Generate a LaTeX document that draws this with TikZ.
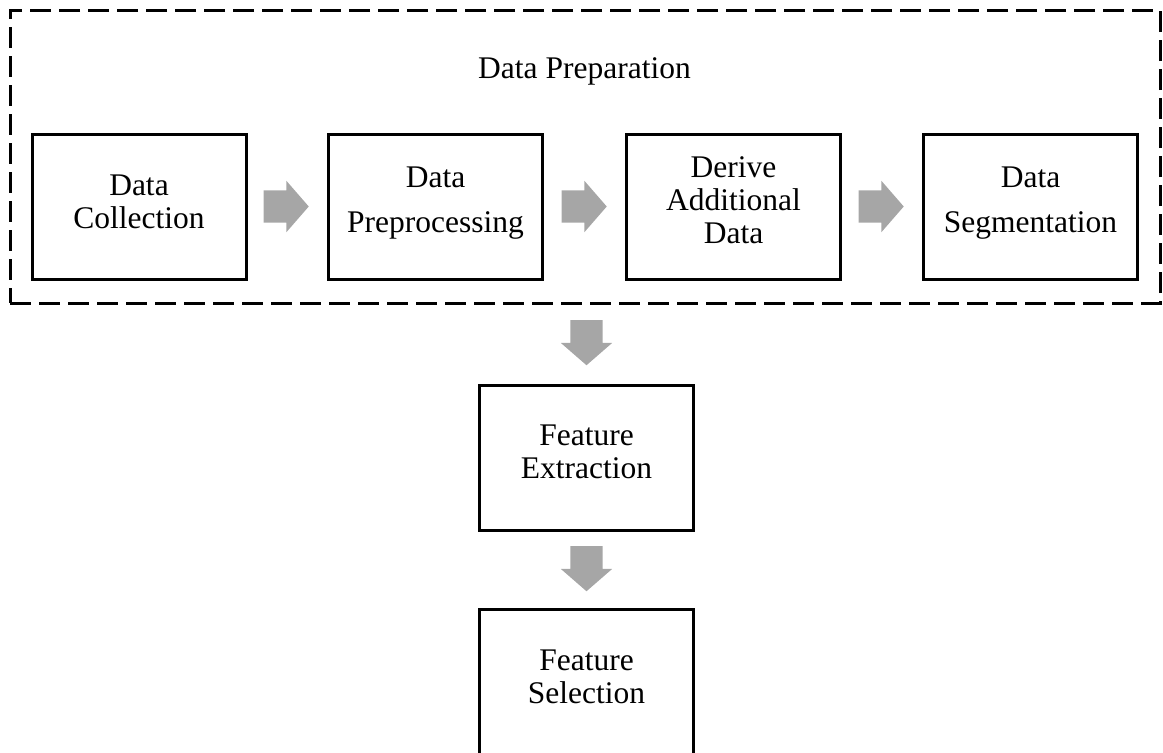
\documentclass[tikz,border=0pt]{standalone}
\usepackage{fontspec}
\setmainfont{Liberation Serif}
\usetikzlibrary{shapes.arrows,calc}
\definecolor{arrowgray}{HTML}{A6A6A6}
\tikzset{
  stage/.style={draw=black, line width=3pt, minimum width=214pt, minimum height=145pt, inner sep=0pt},
  lbl/.style={anchor=base, inner sep=0pt, font=\fontsize{31.5}{33}\selectfont},
  blockarrow/.style={single arrow, fill=arrowgray, draw=none,
    inner xsep=0pt, inner ysep=16pt,
    minimum height=45pt,
    single arrow head extend=9.5pt, single arrow tip angle=98},
  rightarrow/.style={blockarrow, anchor=tip},
  downarrow/.style={blockarrow, inner xsep=16pt, inner ysep=0pt,
    shape border rotate=270, anchor=tip},
  groupframe/.style={draw=black, line width=3pt, dash pattern=on 21pt off 8pt,
    minimum width=1150pt, minimum height=293pt, inner sep=0pt}
}
\begin{document}
\begin{tikzpicture}[x=1pt,y=-1pt]
\useasboundingbox (0,0) rectangle (1163,753);
\clip (0,0) rectangle (1163,753);

% data preparation group
\node[groupframe] (prep) at (585,156.5) {};
\node[lbl] (preptitle) at (584.5,78) {Data Preparation};

% preparation stages
\node[stage] (b1) at (139,206.5) {};
\node[stage] (b2) at (435.5,206.5) {};
\node[stage] (b3) at (733.5,206.5) {};
\node[stage] (b4) at (1030.5,206.5) {};

\node[lbl] (b1l1) at (139,195) {Data};
\node[lbl] (b1l2) at (139,228) {Collection};
\node[lbl] (b2l1) at (435.5,187) {Data};
\node[lbl] (b2l2) at (435.5,232) {Preprocessing};
\node[lbl] (b3l1) at (733.5,177) {Derive};
\node[lbl] (b3l2) at (733.5,210) {Additional};
\node[lbl] (b3l3) at (733.5,243) {Data};
\node[lbl] (b4l1) at (1030.5,187) {Data};
\node[lbl] (b4l2) at (1030.5,232) {Segmentation};

% feature stages
\node[stage] (fe) at (586.5,457.5) {};
\node[lbl] (fel1) at (586.5,445) {Feature};
\node[lbl] (fel2) at (586.5,478) {Extraction};

\node[stage, minimum height=148pt] (fs) at (586.5,683) {};
\node[lbl] (fsl1) at (586.5,670) {Feature};
\node[lbl] (fsl2) at (586.5,703) {Selection};

% block arrows pointing at the next stage
\node[rightarrow] (a12) at ($(b2.west)+(-18,0)$) {};
\node[rightarrow] (a23) at ($(b3.west)+(-18,0)$) {};
\node[rightarrow] (a34) at ($(b4.west)+(-18,0)$) {};
\node[downarrow] (apf) at ($(fe.north)+(0,-18)$) {};
\node[downarrow] (afs) at ($(fs.north)+(0,-16)$) {};
\end{tikzpicture}
\end{document}
